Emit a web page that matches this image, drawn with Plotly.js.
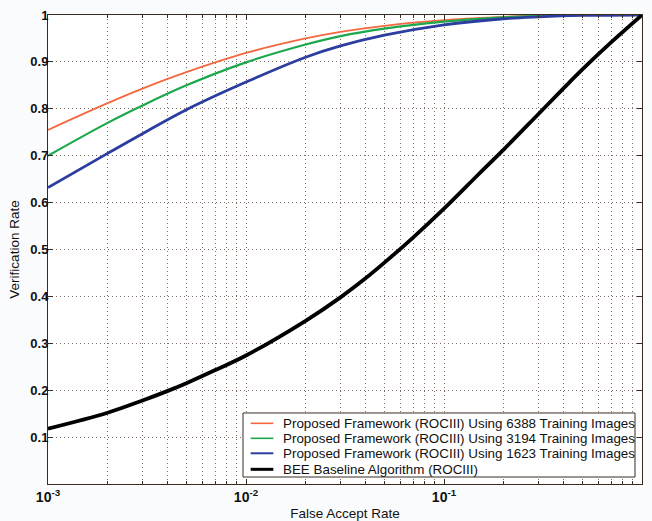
<!DOCTYPE html>
<html>
<head>
<meta charset="utf-8">
<script src="https://cdn.plot.ly/plotly-3.0.1.min.js"></script>
<style>html,body{margin:0;padding:0;background:#fafbfc;}#chart{width:652px;height:521px;}</style>
</head>
<body>
<div id="chart"></div>
<script>
// False accept rate sample points
const farProposed = [0.001, 0.002, 0.003, 0.005, 0.01, 0.02, 0.03, 0.05, 0.1, 0.2, 0.3, 0.5, 1];
const vr6388 = [0.755, 0.812, 0.843, 0.878, 0.919, 0.950, 0.964, 0.977, 0.989, 0.996, 0.999, 1.0, 1.0];
const vr3194 = [0.700, 0.770, 0.807, 0.850, 0.899, 0.937, 0.955, 0.971, 0.986, 0.995, 0.998, 1.0, 1.0];
const vr1623 = [0.632, 0.705, 0.747, 0.798, 0.857, 0.910, 0.934, 0.957, 0.979, 0.992, 0.996, 0.999, 1.0];
const farBaseline = [0.001, 0.002, 0.003, 0.004, 0.005, 0.007, 0.01, 0.02, 0.03, 0.04, 0.05, 0.07, 0.1, 0.15, 0.2, 0.3, 0.4, 0.5, 0.7, 1];
const vrBaseline = [0.118, 0.152, 0.178, 0.198, 0.215, 0.243, 0.274, 0.348, 0.398, 0.438, 0.472, 0.526, 0.587, 0.661, 0.713, 0.789, 0.843, 0.884, 0.942, 1.0];
const seriesNames = [
  "Proposed Framework (ROCIII) Using 6388 Training Images",
  "Proposed Framework (ROCIII) Using 3194 Training Images",
  "Proposed Framework (ROCIII) Using 1623 Training Images",
  "BEE Baseline Algorithm (ROCIII)"
];
const xTickVals = [0.001, 0.01, 0.1, 1];
const xTickText = ["10<sup>-3</sup>", "10<sup>-2</sup>", "10<sup>-1</sup>", "10<sup>0</sup>"];
const yTickVals = [0.1, 0.2, 0.3, 0.4, 0.5, 0.6, 0.7, 0.8, 0.9, 1];
const yTickText = ["0.1", "0.2", "0.3", "0.4", "0.5", "0.6", "0.7", "0.8", "0.9", "1"];

// styles
const seriesColors = ["#f4683e", "#1ba84c", "#2b3d9e", "#000000"];
const seriesWidths = [1.8, 2.2, 2.8, 3.8];
const legendWidths = [1.6, 1.6, 2.0, 3.0];

const xs = [farProposed, farProposed, farProposed, farBaseline];
const ys = [vr6388, vr3194, vr1623, vrBaseline];
const traces = seriesNames.map((n, i) => ({
  x: xs[i], y: ys[i], name: n, mode: "lines",
  line: {color: seriesColors[i], width: seriesWidths[i], shape: "spline", smoothing: 1}
}));

const gridCol = "#7d6f68";
const axisCol = "#3b2a22";

// custom legend (MATLAB-like compact rows)
const legBox = {x0: 0.3283, x1: 0.9882, y0: 0.0149, y1: 0.1514};
const rowY = [0.1294, 0.0974, 0.0655, 0.0313];
const shapes = [{
  type: "rect", xref: "paper", yref: "paper",
  x0: legBox.x0, x1: legBox.x1, y0: legBox.y0, y1: legBox.y1,
  line: {color: axisCol, width: 1}, fillcolor: "#ffffff", layer: "above"
}];
const annotations = [];
seriesNames.forEach((n, i) => {
  shapes.push({type: "line", xref: "paper", yref: "paper", x0: 0.3412, x1: 0.3793, y0: rowY[i], y1: rowY[i],
    line: {color: seriesColors[i], width: legendWidths[i]}, layer: "above"});
  annotations.push({xref: "paper", yref: "paper", x: 0.3918, y: rowY[i], xanchor: "left", yanchor: "middle",
    text: n, showarrow: false, font: {size: 13.4, color: "#111111"}});
});

const layout = {
  width: 652, height: 521,
  margin: {l: 48, r: 10, t: 15, b: 37},
  paper_bgcolor: "#fafbfc",
  plot_bgcolor: "#ffffff",
  font: {family: "Liberation Sans, Arial, sans-serif", color: "#111111", size: 13},
  showlegend: false,
  shapes: shapes,
  annotations: annotations,
  xaxis: {
    type: "log", range: [-3, 0],
    tickvals: xTickVals, ticktext: xTickText,
    tickfont: {size: 14, weight: "bold"},
    ticks: "inside", ticklen: 5, tickcolor: axisCol,
    showline: true, linecolor: axisCol, linewidth: 1, mirror: "ticks",
    showgrid: true, gridcolor: gridCol, griddash: "1px,3px", gridwidth: 1,
    zeroline: false,
    minor: {dtick: "D1", ticks: "inside", ticklen: 3, tickcolor: axisCol, showgrid: true, gridcolor: gridCol, griddash: "1px,3px", gridwidth: 1},
    title: {text: "False Accept Rate", font: {size: 13.5}, standoff: 10}
  },
  yaxis: {
    range: [0, 1],
    tickvals: yTickVals, ticktext: yTickText,
    tickfont: {size: 13, weight: "bold"},
    ticks: "inside", ticklen: 5, tickcolor: axisCol,
    ticklabelstandoff: -4,
    showline: true, linecolor: axisCol, linewidth: 1, mirror: "ticks",
    showgrid: true, gridcolor: gridCol, griddash: "1px,3px", gridwidth: 1,
    zeroline: false,
    title: {text: "Verification Rate", font: {size: 13.5}, standoff: 7}
  }
};

Plotly.newPlot("chart", traces, layout, {displayModeBar: false, staticPlot: true});
</script>
</body>
</html>
